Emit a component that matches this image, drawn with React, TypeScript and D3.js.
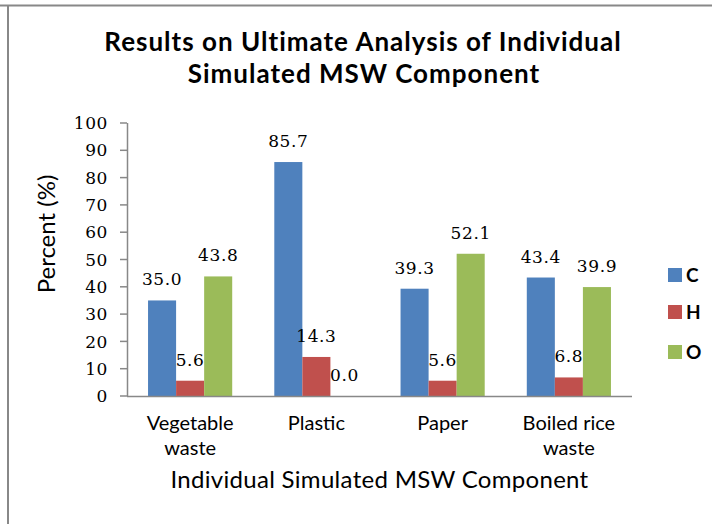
import React from "react";
import * as d3 from "d3";

const categories: string[][] = [["Vegetable", "waste"], ["Plastic"], ["Paper"], ["Boiled rice", "waste"]];
const seriesNames = ["C", "H", "O"];
const valuesC = [35.0, 85.7, 39.3, 43.4];
const valuesH = [5.6, 14.3, 5.6, 6.8];
const valuesO = [43.8, 0.0, 52.1, 39.9];
const yTicks = [0, 10, 20, 30, 40, 50, 60, 70, 80, 90, 100];
const colors = ["#4F81BD", "#C0504D", "#9BBB59"];

const W = 712, H = 524;
const plot = { left: 127, right: 632, top: 123, bottom: 396 };

export default function App() {
  const series = [valuesC, valuesH, valuesO];
  const x = d3.scaleBand<number>().domain(d3.range(categories.length)).range([plot.left, plot.right]).paddingInner(0).paddingOuter(0);
  const bw = x.bandwidth() / 4.5;
  const y = d3.scaleLinear().domain([0, 100]).range([plot.bottom, plot.top]);
  const sans = "Lato, 'Open Sans', sans-serif";
  const serif = "'DejaVu Serif', serif";

  return (
    <svg width={W} height={H} style={{ position: "absolute", left: 0, top: 0, background: "#fff" }}>
      <rect x={0} y={0} width={W} height={H} fill="#fff" />
      <line x1={0} x2={W} y1={5.5} y2={5.5} stroke="#888" strokeWidth={2} />
      <line x1={8} x2={8} y1={5} y2={H} stroke="#888" strokeWidth={2} />

      <text x={363} y={51} textAnchor="middle" fontFamily={sans} fontWeight="bold" fontSize={26} letterSpacing={1} fill="#000">Results on Ultimate Analysis of Individual</text>
      <text x={364} y={83} textAnchor="middle" fontFamily={sans} fontWeight="bold" fontSize={26} letterSpacing={1} fill="#000">Simulated MSW Component</text>

      {/* y axis */}
      <line x1={plot.left + 0.5} x2={plot.left + 0.5} y1={y(100)} y2={plot.bottom} stroke="#888" strokeWidth={1.5} />
      {yTicks.map((t) => (
        <g key={t}>
          <line x1={plot.left - 7} x2={plot.left} y1={y(t)} y2={y(t)} stroke="#888" strokeWidth={1.5} />
          <text x={plot.left - 19} y={y(t)} dy="0.36em" textAnchor="end" fontFamily={serif} fontSize={17} letterSpacing={0.6} fill="#000">{t}</text>
        </g>
      ))}
      <text transform={`translate(55,234) rotate(-90)`} textAnchor="middle" fontFamily={sans} fontSize={24} fill="#000">Percent (%)</text>

      {/* bars */}
      {categories.map((c, i) =>
        series.map((s, k) => {
          const bx = (x(i) as number) + bw * 0.75 + k * bw;
          const v = s[i];
          return (
            <g key={`${i}-${k}`}>
              <rect x={bx} y={y(v)} width={bw} height={plot.bottom - y(v)} fill={colors[k]} />
              <text x={bx + bw / 2} y={y(v) - 15} textAnchor="middle" fontFamily={serif} fontSize={17} letterSpacing={0.6} fill="#000">{v.toFixed(1)}</text>
            </g>
          );
        })
      )}

      {/* x axis */}
      <line x1={plot.left} x2={plot.right} y1={plot.bottom + 0.5} y2={plot.bottom + 0.5} stroke="#888" strokeWidth={1.5} />
      {categories.map((c, i) => (
        <text key={i} x={(x(i) as number) + x.bandwidth() / 2} y={430} textAnchor="middle" fontFamily={sans} fontSize={20} fill="#000">
          {c.map((line, j) => (
            <tspan key={j} x={(x(i) as number) + x.bandwidth() / 2} dy={j === 0 ? 0 : 25}>{line}</tspan>
          ))}
        </text>
      ))}
      <text x={(plot.left + plot.right) / 2} y={488} textAnchor="middle" fontFamily={sans} fontSize={24} letterSpacing={0.3} fill="#000">Individual Simulated MSW Component</text>

      {/* legend */}
      {seriesNames.map((n, k) => {
        const ly = [275, 312, 352][k];
        return (
          <g key={n}>
            <rect x={668} y={ly - 7} width={14} height={14} fill={colors[k]} />
            <text x={686} y={ly} dy="0.36em" fontFamily={sans} fontSize={19} fontWeight="bold" fill="#000">{n}</text>
          </g>
        );
      })}
    </svg>
  );
}
